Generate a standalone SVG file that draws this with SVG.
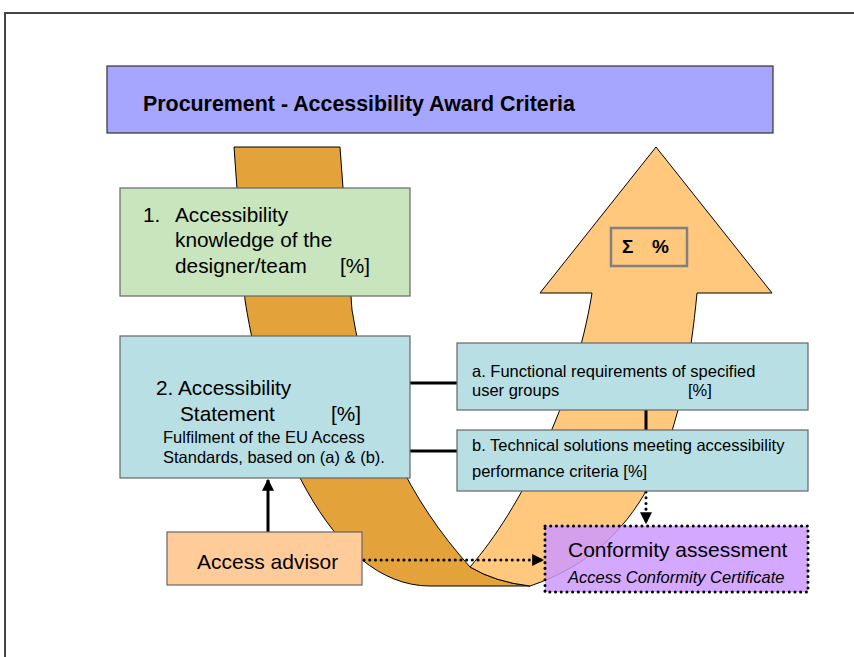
<svg xmlns="http://www.w3.org/2000/svg" width="854" height="657" viewBox="0 0 854 657">
<style>
text{font-family:"Liberation Sans",Arial,sans-serif;fill:#000}
.box{stroke:#666;stroke-width:1.2}
.solid{stroke:#000;stroke-width:3;fill:none}
.dot{stroke:#000;stroke-width:3;fill:none;stroke-linecap:round;stroke-dasharray:0.1 5.6}
</style>
<defs>
<marker id="ah" viewBox="0 0 10 10" refX="9" refY="5" markerWidth="4" markerHeight="4" orient="auto" markerUnits="strokeWidth">
<path d="M0,0 L10,5 L0,10 Z" fill="#000"/>
</marker>
</defs>
<rect width="854" height="657" fill="#fff"/>
<path d="M5,657 L5,13 L854,13" fill="none" stroke="#444" stroke-width="2"/>

<g id="title">
<rect x="107" y="66" width="666" height="67" fill="#A6A6FF" stroke="#333" stroke-width="1.2"/>
<text x="143" y="111" font-size="21.4" font-weight="bold">Procurement - Accessibility Award Criteria</text>
</g>

<g id="uturn-arrow" stroke="#000" stroke-width="1">
<path d="M234,147 L340,147 L352,310 C370,420 410,500 470,567 Q495,582 530,586 L430,586 C330,586 265,430 245,300 Z" fill="#E3A23A"/>
<path d="M470,567 C520,510 575,400 592,293 L540,293 L656,147 L772,293 L697,293 C684,430 652,545 530,586 Q495,582 470,567 Z" fill="#FFC87C"/>
</g>

<g id="sum">
<rect x="611" y="228" width="76" height="38" fill="none" stroke="#808080" stroke-width="2.5"/>
<text x="622" y="253" font-size="19" font-weight="bold">Σ</text>
<text x="652" y="253" font-size="19" font-weight="bold">%</text>
</g>

<g id="connectors">
<line class="solid" x1="410" y1="383" x2="457" y2="383"/>
<line class="solid" x1="410" y1="451" x2="457" y2="451"/>
<line class="solid" x1="646" y1="410" x2="646" y2="430"/>
<line class="solid" x1="268" y1="532" x2="268" y2="480" marker-end="url(#ah)"/>
<line class="dot" x1="646" y1="492" x2="646" y2="523" marker-end="url(#ah)"/>
<line class="dot" x1="364" y1="560" x2="543" y2="560" marker-end="url(#ah)"/>
</g>

<g id="node1">
<rect class="box" x="120" y="188" width="290" height="108" fill="#C9E5BD"/>
<text x="143" y="222" font-size="20.8">1.</text>
<text x="175" y="222" font-size="20.8">Accessibility</text>
<text x="175" y="247" font-size="20.8">knowledge of the</text>
<text x="175" y="273" font-size="20.8">designer/team</text>
<text x="340" y="273" font-size="20.8">[%]</text>
</g>

<g id="node2">
<rect class="box" x="120" y="336" width="290" height="142" fill="#B8DFE3"/>
<text x="156" y="395" font-size="20.8">2. Accessibility</text>
<text x="180" y="421" font-size="20.8">Statement</text>
<text x="331" y="421" font-size="20.8">[%]</text>
<text x="163" y="443" font-size="16.5">Fulfilment of the EU Access</text>
<text x="163" y="463" font-size="16.5">Standards, based on (a) &amp; (b).</text>
</g>

<g id="nodeA">
<rect class="box" x="457" y="343" width="351" height="67" fill="#B8DFE3"/>
<text x="472" y="377" font-size="16.5">a. Functional requirements of specified</text>
<text x="472" y="396" font-size="16.5">user groups</text>
<text x="688" y="396" font-size="16.5">[%]</text>
</g>

<g id="nodeB">
<rect class="box" x="457" y="430" width="351" height="61" fill="#B8DFE3"/>
<text x="472" y="451" font-size="16.5">b. Technical solutions meeting accessibility</text>
<text x="472" y="477" font-size="16.5">performance criteria [%]</text>
</g>

<g id="advisor">
<rect class="box" x="167" y="532" width="195" height="53" fill="#FFCC99"/>
<text x="197" y="569" font-size="21">Access advisor</text>
</g>

<g id="conformity">
<rect x="545" y="526" width="263" height="66" fill="#CC99FF" fill-opacity="0.85" stroke="#000" stroke-width="3" stroke-linecap="round" stroke-dasharray="0.1 5.6"/>
<text x="568" y="557" font-size="21">Conformity assessment</text>
<text x="568" y="583" font-size="16.5" font-style="italic">Access Conformity Certificate</text>
</g>
</svg>
